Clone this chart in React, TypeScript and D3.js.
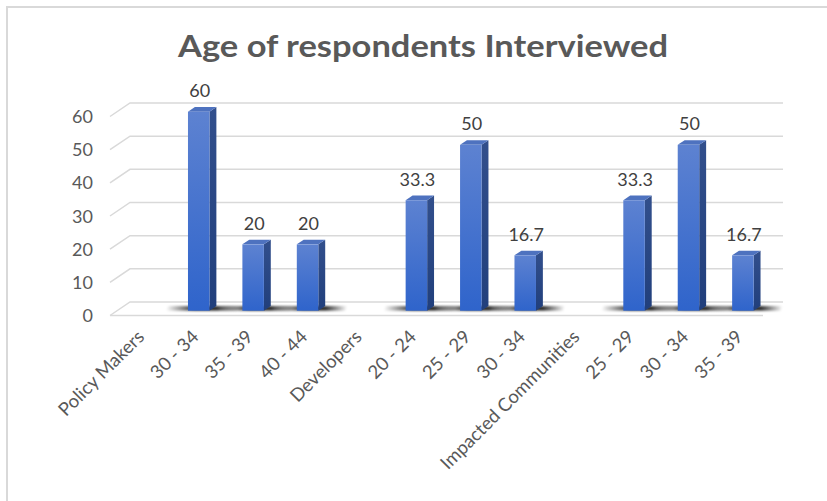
import React from "react";
import * as d3 from "d3";

const categories = [
  "Policy Makers", "30 - 34", "35 - 39", "40 - 44",
  "Developers", "20 - 24", "25 - 29", "30 - 34 ",
  "Impacted Communities", "25 - 29 ", "30 - 34  ", "35 - 39 ",
];
const values: (number | null)[] = [null, 60, 20, 20, null, 33.3, 50, 16.7, null, 33.3, 50, 16.7];
const yTicks = [0, 10, 20, 30, 40, 50, 60];
const title = "Age of respondents Interviewed";

const W = 827, H = 501;
const FRONT_L = 110, FRONT_R = 763;
const DX = 20, DY = -13.5; // depth vector
const F0 = 0.355, F1 = 0.7; // bar depth range (fraction)
const BAR_W = 21.5;
const FONT = "Lato, 'Open Sans', sans-serif";

export default function App() {
  const x = d3.scaleBand<number>().domain(d3.range(categories.length)).range([FRONT_L, FRONT_R]).padding(0);
  const y = d3.scaleLinear().domain([0, 60]).range([315.5, 116.5]);
  const bw = x.bandwidth();

  const barCenter = (i: number) => (x(i) as number) + bw / 2 + F0 * DX;
  const base = y(0) + F0 * DY;
  const sdx = (F1 - F0) * DX, sdy = (F1 - F0) * DY;

  return (
    <svg width={W} height={H} style={{ position: "absolute", left: 0, top: 0, background: "#fff" }} xmlns="http://www.w3.org/2000/svg">
      <defs>
        <linearGradient id="front" x1="0" y1="0" x2="0" y2="1">
          <stop offset="0" stopColor="#5d82d1" />
          <stop offset="1" stopColor="#2f64cb" />
        </linearGradient>
        <linearGradient id="side" x1="0" y1="0" x2="0" y2="1">
          <stop offset="0" stopColor="#324f8c" />
          <stop offset="1" stopColor="#213f7c" />
        </linearGradient>
        <linearGradient id="shadow" x1="0" y1="0" x2="1" y2="0">
          <stop offset="0" stopColor="#000" stopOpacity="0" />
          <stop offset="0.4" stopColor="#000" stopOpacity="0.8" />
          <stop offset="0.7" stopColor="#000" stopOpacity="0.8" />
          <stop offset="1" stopColor="#000" stopOpacity="0" />
        </linearGradient>
        <filter id="blur" x="-20%" y="-50%" width="140%" height="200%">
          <feGaussianBlur stdDeviation="0.8" />
        </filter>
      </defs>
      {/* chart border */}
      <rect x={7} y={7} width={W} height={H} fill="none" stroke="#d9d9d9" strokeWidth={2} />

      {/* title */}
      <text x={423} y={57} textAnchor="middle" fontFamily={FONT} fontWeight={700} fontSize={31}
        textLength={490} lengthAdjust="spacingAndGlyphs" fill="#595959">{title}</text>

      {/* gridlines */}
      {yTicks.map((t) => {
        const yf = y(t);
        return (
          <g key={t}>
            <polyline
              points={`${FRONT_L},${yf} ${FRONT_L + DX},${yf + DY} ${FRONT_R + DX},${yf + DY}`}
              fill="none" stroke="#d9d9d9" strokeWidth={1.5} />
            <text x={93} y={yf + 6.5} textAnchor="end" fontFamily={FONT} fontSize={18} fill="#595959">{t}</text>
          </g>
        );
      })}
      {/* floor front edge */}
      <line x1={FRONT_L} y1={y(0)} x2={FRONT_R} y2={y(0)} stroke="#d9d9d9" strokeWidth={1.5} />

      {/* shadows */}
      {values.map((v, i) => {
        if (v == null) return null;
        const cx = barCenter(i);
        const l = cx - BAR_W / 2 - 22, r = cx + BAR_W / 2 + sdx + 20;
        const yb = base;
        const pts = `${l},${yb} ${r},${yb} ${r + sdx * 0.3},${yb + sdy} ${l + sdx * 0.3},${yb + sdy}`;
        return <polygon key={"s" + i} points={pts} fill="url(#shadow)" filter="url(#blur)" />;
      })}

      {/* bars */}
      {values.map((v, i) => {
        if (v == null) return null;
        const cx = barCenter(i);
        const l = cx - BAR_W / 2, r = cx + BAR_W / 2;
        const top = base - (y(0) - y(v));
        return (
          <g key={"b" + i}>
            <polygon points={`${r},${base} ${r + sdx},${base + sdy} ${r + sdx},${top + sdy} ${r},${top}`} fill="url(#side)" />
            <polygon points={`${l},${top} ${r},${top} ${r + sdx},${top + sdy} ${l + sdx},${top + sdy}`} fill="#4e72bf" />
            <rect x={l} y={top} width={BAR_W} height={base - top} fill="url(#front)" />
            <text x={cx + 1} y={top - 14.5} textAnchor="middle" fontFamily={FONT} fontSize={18} fill="#404040">{v}</text>
          </g>
        );
      })}

      {/* x labels */}
      {categories.map((c, i) => {
        const ax = barCenter(i) + 1;
        const ay = 338;
        return (
          <text key={"x" + i} x={ax} y={ay} transform={`rotate(-45 ${ax} ${ay})`} textAnchor="end"
            fontFamily={FONT} fontSize={18.5} fill="#595959">{c.trim()}</text>
        );
      })}
    </svg>
  );
}
